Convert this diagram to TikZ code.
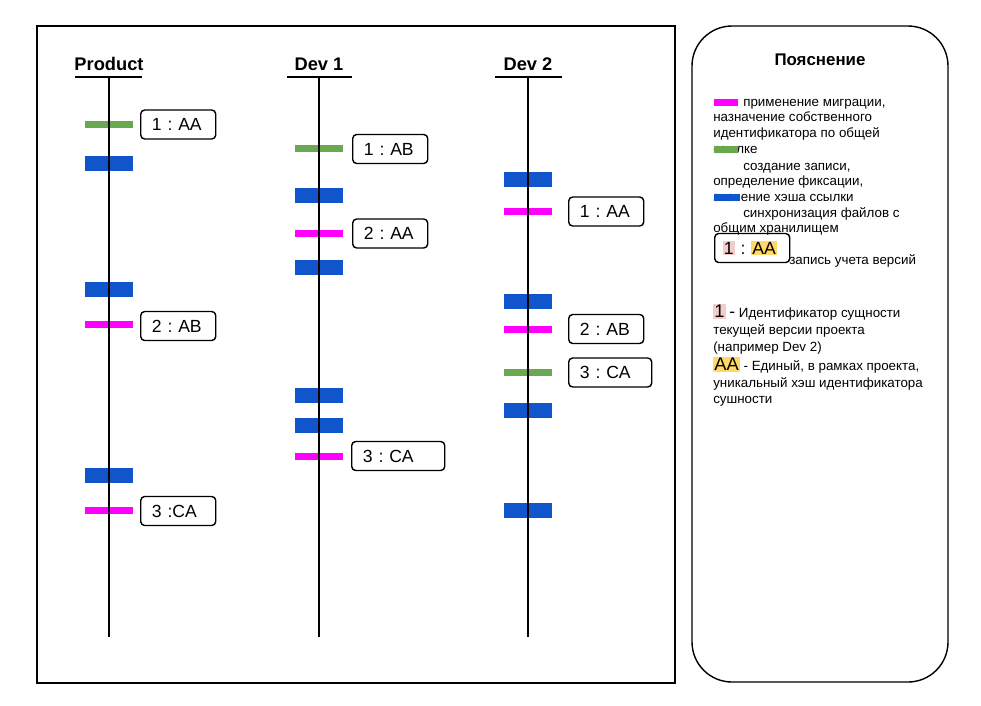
\documentclass[tikz,border=0pt]{standalone}
\usepackage{fontspec}
\setmainfont{Liberation Sans}
\frenchspacing
\definecolor{migr}{HTML}{FF00FF}
\definecolor{rec}{HTML}{6AA84F}
\definecolor{sync}{HTML}{1155CC}
\definecolor{hlpink}{HTML}{F4CCCC}
\definecolor{hlyel}{HTML}{FFD966}
\newcommand{\hlp}[1]{{\setlength{\fboxsep}{0.8pt}\colorbox{hlpink}{#1}}}
\newcommand{\hly}[1]{{\setlength{\fboxsep}{0.8pt}\colorbox{hlyel}{#1}}}
\newcommand{\lblfont}{\fontsize{12.5}{14}\selectfont\frenchspacing}
\newcommand{\legfont}{\fontsize{9.5}{11.1}\selectfont\frenchspacing}
\tikzset{
	thinbar/.style={fill=#1, inner sep=0pt, minimum width=1.175cm, minimum height=0.175cm},
	thickbar/.style={fill=sync, inner sep=0pt, minimum width=1.175cm, minimum height=0.375cm},
	legbar/.style={fill=#1, inner sep=0pt, minimum width=0.6cm, minimum height=0.175cm},
	verbox/.style={draw, line width=1pt, rounded corners=0.1cm, minimum height=0.725cm, inner xsep=0.28cm, inner ysep=0pt, text width=#1, align=left, anchor=west, font=\lblfont},
	verbox/.default=1.315cm,
	hdr/.style={font=\fontsize{13}{15}\selectfont\bfseries},
	legtext/.style={anchor=north west, inner sep=0pt, align=left, font=\legfont},
	tl/.style={line width=1pt}
}
\begin{document}
\begin{tikzpicture}[x=0.025cm, y=-0.025cm]

	\useasboundingbox (0,0) rectangle (981,705);

	\def\yTop{77}
	\def\yBot{637}
	\def\xP{109}
	\def\xA{319}
	\def\xB{528}

	%MARCOS
	\draw[line width=1pt] (37,26) rectangle (675,683);
	\draw[line width=1pt, rounded corners=1cm] (692,26) rectangle (948,682);

	%PRODUCT
	\node[hdr] (hp) at (\xP,64) {Product};
	\node[thinbar=rec] (p1) at (\xP,124.5) {};
	\node[thickbar] (p2) at (\xP,163.5) {};
	\node[thickbar] (p3) at (\xP,289.5) {};
	\node[thinbar=migr] (p4) at (\xP,324.5) {};
	\node[thickbar] (p5) at (\xP,475.5) {};
	\node[thinbar=migr] (p6) at (\xP,510.5) {};
	\node[verbox] (lp1) at (140,124.5) {1 : AA};
	\node[verbox] (lp2) at (140,326) {2 : AB};
	\node[verbox] (lp3) at (140,511) {3 :CA};

	%DEV 1
	\node[hdr] (ha) at (\xA,64) {Dev 1};
	\node[thinbar=rec] (a1) at (\xA,148.5) {};
	\node[thickbar] (a2) at (\xA,195.5) {};
	\node[thinbar=migr] (a3) at (\xA,233.5) {};
	\node[thickbar] (a4) at (\xA,267) {};
	\node[thickbar] (a5) at (\xA,395.5) {};
	\node[thickbar] (a6) at (\xA,425.5) {};
	\node[thinbar=migr] (a7) at (\xA,456.5) {};
	\node[verbox] (la1) at (352,149) {1 : AB};
	\node[verbox] (la2) at (352,233.5) {2 : AA};
	\node[verbox=1.765cm] (la3) at (351,456) {3 : CA};

	%DEV 2
	\node[hdr] (hb) at (\xB,64) {Dev 2};
	\node[thickbar] (b1) at (\xB,179.5) {};
	\node[thinbar=migr] (b2) at (\xB,211.5) {};
	\node[thickbar] (b3) at (\xB,301) {};
	\node[thinbar=migr] (b4) at (\xB,329.5) {};
	\node[thinbar=rec] (b5) at (\xB,372) {};
	\node[thickbar] (b6) at (\xB,410.5) {};
	\node[thickbar] (b7) at (\xB,510.5) {};
	\node[verbox] (lb1) at (568,211.5) {1 : AA};
	\node[verbox] (lb2) at (568,329) {2 : AB};
	\node[verbox=1.515cm] (lb3) at (568,372.5) {3 : CA};

	%LINEAS
	\coordinate (tp) at (\xP,\yTop);
	\coordinate (bp) at (\xP,\yBot);
	\coordinate (ta) at (\xA,\yTop);
	\coordinate (ba) at (\xA,\yBot);
	\coordinate (tb) at (\xB,\yTop);
	\coordinate (bb) at (\xB,\yBot);
	\draw[tl]
		(75,\yTop) -- (142,\yTop)
		(287,\yTop) -- (352,\yTop)
		(495,\yTop) -- (562,\yTop)
		(tp) -- (bp)
		(ta) -- (ba)
		(tb) -- (bb)
	;

	%LEYENDA
	\node[font=\fontsize{12}{14}\selectfont\bfseries] (leg) at (820,60) {Пояснение};
	\node[legtext] (t1) at (713,95) {\strut\hspace*{0.75cm}применение миграции,\\назначение собственного\\идентификатора по общей\\ссылке};
	\node[legtext] (t2) at (713,159) {\strut\hspace*{0.75cm}создание записи,\\определение фиксации,\\значение хэша ссылки};
	\node[legtext] (t3) at (713,206) {\strut\hspace*{0.75cm}синхронизация файлов с\\общим хранилищем};
	\node[legbar=migr] (m1) at (726,102.5) {};
	\node[legbar=rec] (m2) at (726,149.5) {};
	\node[legbar=sync, minimum width=0.65cm] (m3) at (727,197.5) {};
	\node[verbox, inner xsep=0.2cm, text width=1.475cm] (lx) at (714,248) {\hlp{1} : \hly{AA}};
	\node[legtext, anchor=west] (tx) at (789,261) {запись учета версий};
	\node[legtext, font=\fontsize{9.5}{11.8}\selectfont\frenchspacing] (t4) at (713,304) {\hlp{\fontsize{13}{14}\selectfont 1} {\lblfont -} Идентификатор сущности\\текущей версии проекта\\(например Dev 2)\\[2pt]\hly{\fontsize{13}{14}\selectfont AA} - Единый, в рамках проекта,\\уникальный хэш идентификатора\\сушности};

\end{tikzpicture}
\end{document}
